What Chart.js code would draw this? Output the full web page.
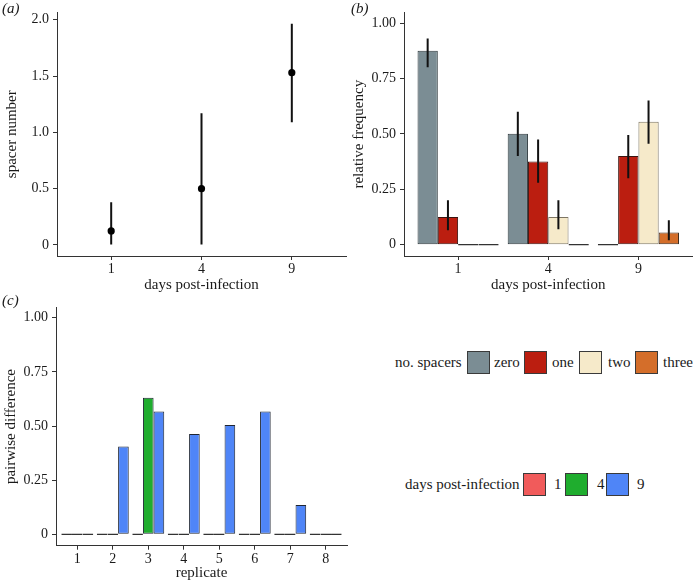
<!DOCTYPE html>
<html>
<head>
<meta charset="utf-8">
<script src="https://cdn.jsdelivr.net/npm/chart.js@4"></script>
<style>
  html, body { margin: 0; padding: 0; background: #fff; }
  #wrap { position: relative; width: 694px; height: 582px; overflow: hidden; background: #fff;
          font-family: 'Liberation Serif', 'Times New Roman', serif; color: #1a1a1a; }
  .cv { position: absolute; }
  .panel { position: absolute; font-style: italic; font-size: 15px; line-height: 16px; }
  .leg { position: absolute; font-size: 15px; line-height: 18px; white-space: nowrap; }
  .box { position: absolute; width: 21px; height: 21px; border: 1px solid #3a3a3a; }
</style>
</head>
<body>
<div id="wrap">
  <canvas id="cA" class="cv" style="left:0;top:0;width:350px;height:300px" width="350" height="300"></canvas>
  <canvas id="cB" class="cv" style="left:350px;top:0;width:344px;height:300px" width="344" height="300"></canvas>
  <canvas id="cC" class="cv" style="left:0;top:295px;width:350px;height:287px" width="350" height="287"></canvas>
  <div class="panel" style="left:2px;top:0px">(a)</div>
  <div class="panel" style="left:351px;top:0px">(b)</div>
  <div class="panel" style="left:2px;top:292px">(c)</div>
  <div id="legends"></div>
</div>
<script>
// ---------- data ----------
const dayCategories = ['1', '4', '9'];

// panel (a): spacer number per day
const spacerMean = [0.125, 0.5, 1.53];
const spacerLow  = [0, 0, 1.09];
const spacerHigh = [0.38, 1.17, 1.965];

// panel (b): relative frequency of spacer counts
const spacerClasses = ['zero', 'one', 'two', 'three'];
const freqZero  = [0.875, 0.5, 0];
const freqOne   = [0.125, 0.375, 0.4];
const freqTwo   = [0, 0.125, 0.555];
const freqThree = [0, 0, 0.055];
const errZeroLow   = [0.80, 0.40, null];
const errZeroHigh  = [0.93, 0.60, null];
const errOneLow    = [0.065, 0.28, 0.30];
const errOneHigh   = [0.20, 0.475, 0.495];
const errTwoLow    = [null, 0.07, 0.455];
const errTwoHigh   = [null, 0.20, 0.65];
const errThreeLow  = [null, null, 0.02];
const errThreeHigh = [null, null, 0.11];

// panel (c): pairwise difference per replicate
const replicates = ['1', '2', '3', '4', '5', '6', '7', '8'];
const dayGroups = ['1', '4', '9'];
const diffDay1 = [0, 0, 0, 0, 0, 0, 0, 0];
const diffDay4 = [0, 0, 0.63, 0, 0, 0, 0, 0];
const diffDay9 = [0, 0.405, 0.567, 0.463, 0.505, 0.567, 0.135, 0];

// tick labels
const yTicksA = [0, 0.5, 1, 1.5, 2];
const yLabelsA = ['0', '0.5', '1.0', '1.5', '2.0'];
const yTicksB = [0, 0.25, 0.5, 0.75, 1];
const yLabelsB = ['0', '0.25', '0.50', '0.75', '1.00'];

// ---------- styles ----------
const spacerColors = ['#7b8d94', '#bb1e10', '#f6eaca', '#d46e2a'];
const spacerBorders = ['#2f3a3e', '#3a1410', '#7d7563', '#3e2a1a'];
const dayColors = ['#f15b5b', '#1fad2e', '#4f85f7'];
const ZERO_LINE = '#333333';
const AXIS = '#333333';
const TXT = '#1a1a1a';

Chart.defaults.font.family = "'Liberation Serif', 'Times New Roman', serif";
Chart.defaults.font.size = 14;
Chart.defaults.color = TXT;
Chart.defaults.animation = false;
Chart.defaults.plugins.legend.display = false;
Chart.defaults.plugins.tooltip.enabled = false;

const xy = (xs, ys) => ys.map((v, i) => ({ x: i + 1, y: v }));
const rng = (lo, hi) => lo.map((v, i) => ({ x: i + 1, y: v === null ? null : [v, hi[i]] }));
const borderFor = (normal) => (ctx) => (ctx.raw && ctx.raw.y === 0) ? ZERO_LINE : normal;

function xAxis(n, labels, height, titleText, titlePadBottom) {
  return {
    type: 'linear', offset: false, min: 0.4, max: n + 0.6,
    afterBuildTicks: (s) => { s.ticks = labels.map((_, i) => ({ value: i + 1 })); },
    afterFit: (s) => { s.height = height; },
    ticks: { callback: (v) => labels[v - 1], padding: 1, color: TXT, maxRotation: 0, autoSkip: false },
    grid: { display: true, drawOnChartArea: false, drawTicks: true, tickLength: 4, color: AXIS, offset: false },
    border: { display: true, color: AXIS, width: 1 },
    title: { display: true, text: titleText, color: TXT, font: { size: 15 }, padding: { top: 0, bottom: titlePadBottom } }
  };
}
function yAxis(min, max, ticks, labels, width, titleText, titlePadTop) {
  return {
    type: 'linear', min: min, max: max, stacked: false,
    afterBuildTicks: (s) => { s.ticks = ticks.map((v) => ({ value: v })); },
    afterFit: (s) => { s.width = width; },
    ticks: { callback: (v) => labels[ticks.indexOf(v)], padding: 4, color: TXT },
    grid: { display: true, drawOnChartArea: false, drawTicks: true, tickLength: 4, color: AXIS },
    border: { display: true, color: AXIS, width: 1 },
    title: { display: true, text: titleText, color: TXT, font: { size: 15 }, padding: { top: titlePadTop, bottom: 0 } }
  };
}

// ---------- panel (a) ----------
new Chart(document.getElementById('cA'), {
  type: 'bar',
  data: {
    datasets: [
      { type: 'line', data: xy(dayCategories, spacerMean), showLine: false, pointRadius: 3.6,
        pointBackgroundColor: '#000', pointBorderColor: '#000', pointBorderWidth: 0, order: 0 },
      { type: 'bar', data: rng(spacerLow, spacerHigh), backgroundColor: '#111', borderWidth: 0,
        maxBarThickness: 2, categoryPercentage: 0.9, barPercentage: 1, order: 1 }
    ]
  },
  options: {
    responsive: false,
    layout: { padding: { left: 0, top: 12, right: 4, bottom: 0 } },
    scales: {
      x: xAxis(3, dayCategories, 44, 'days post-infection', 6),
      y: yAxis(-0.098, 2.065, yTicksA, yLabelsA, 57, 'spacer number', 3)
    }
  }
});

// ---------- panel (b) ----------
const freqSeries = [freqZero, freqOne, freqTwo, freqThree];
const errLows = [errZeroLow, errOneLow, errTwoLow, errThreeLow];
const errHighs = [errZeroHigh, errOneHigh, errTwoHigh, errThreeHigh];
const dsB = [];
spacerClasses.forEach((name, k) => {
  dsB.push({ label: name + ' err', data: rng(errLows[k], errHighs[k]), stack: name,
    backgroundColor: '#111', borderWidth: 0, maxBarThickness: 2, order: 0,
    categoryPercentage: 0.9, barPercentage: 1 });
});
spacerClasses.forEach((name, k) => {
  dsB.push({ label: name, data: xy(dayCategories, freqSeries[k]), stack: name,
    backgroundColor: spacerColors[k], borderColor: borderFor(spacerBorders[k]), borderWidth: 1,
    borderSkipped: false, minBarLength: 1.6, order: 1, categoryPercentage: 0.9, barPercentage: 1 });
});
new Chart(document.getElementById('cB'), {
  type: 'bar',
  data: { datasets: dsB },
  options: {
    responsive: false,
    layout: { padding: { left: 0, top: 12, right: 1.5, bottom: 0 } },
    scales: {
      x: xAxis(3, dayCategories, 44, 'days post-infection', 6),
      y: yAxis(-0.051, 1.048, yTicksB, yLabelsB, 54, 'relative frequency', 0)
    }
  }
});

// ---------- panel (c) ----------
const diffSeries = [diffDay1, diffDay4, diffDay9];
new Chart(document.getElementById('cC'), {
  type: 'bar',
  data: {
    datasets: dayGroups.map((d, k) => ({
      label: d, data: xy(replicates, diffSeries[k]),
      backgroundColor: dayColors[k], borderColor: borderFor('#1f2633'), borderWidth: 1,
      borderSkipped: false, minBarLength: 1.6, categoryPercentage: 0.9, barPercentage: 1
    }))
  },
  options: {
    responsive: false,
    layout: { padding: { left: 0, top: 6.7, right: 3, bottom: 0 } },
    scales: {
      x: xAxis(8, replicates, 36.3, 'replicate', 0),
      y: yAxis(-0.053, 1.048, yTicksB, yLabelsB, 56, 'pairwise difference', 1.8)
    }
  }
});

// ---------- legends (HTML) ----------
const leg = document.getElementById('legends');
function addText(txt, x, yc) {
  const d = document.createElement('div');
  d.className = 'leg'; d.textContent = txt;
  d.style.left = x + 'px'; d.style.top = (yc - 9) + 'px';
  leg.appendChild(d);
}
function addBox(color, x, yc) {
  const b = document.createElement('div');
  b.className = 'box'; b.style.background = color;
  b.style.left = x + 'px'; b.style.top = (yc - 11.5) + 'px';
  leg.appendChild(b);
}
addText('no. spacers', 395, 362);
const spBoxX = [467, 524, 579, 635];
const spTxtX = [494, 552, 608, 663];
spacerClasses.forEach((n, k) => { addBox(spacerColors[k], spBoxX[k], 362); addText(n, spTxtX[k], 362); });
addText('days post-infection', 405, 484);
const dBoxX = [523, 565, 606];
const dTxtX = [554, 597, 637];
dayGroups.forEach((n, k) => { addBox(dayColors[k], dBoxX[k], 484); addText(n, dTxtX[k], 484); });
</script>
</body>
</html>
